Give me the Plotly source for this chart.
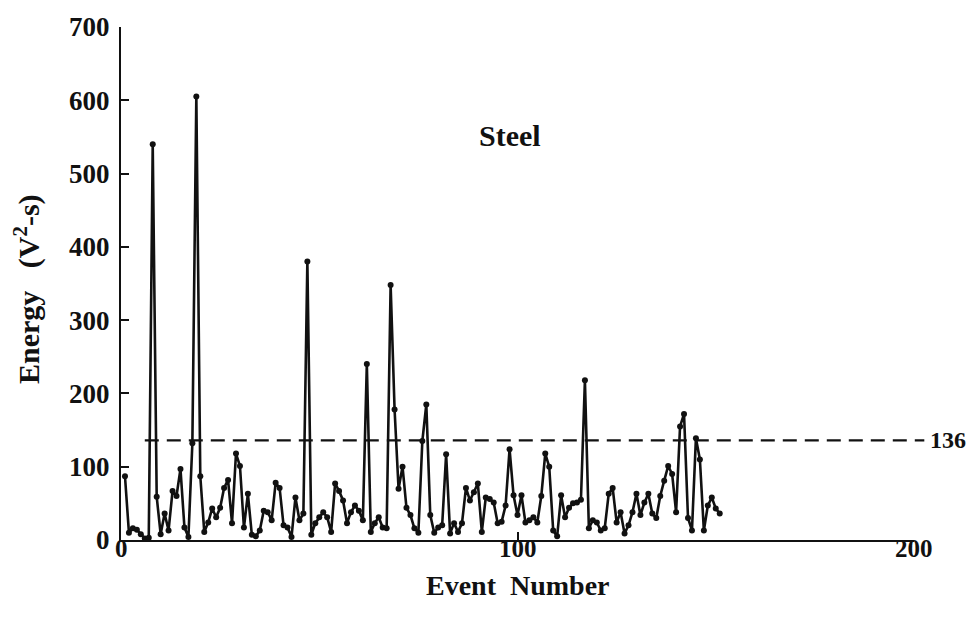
import plotly.graph_objects as go

# Acoustic emission energy per event for the steel specimen
energy = [
    87, 10, 16, 14, 8, 2, 3, 540, 59, 8,
    36, 13, 67, 60, 97, 17, 4, 132, 605, 87,
    11, 24, 43, 31, 44, 71, 82, 23, 118, 101,
    17, 63, 7, 5, 13, 40, 38, 27, 78, 71,
    20, 17, 4, 58, 27, 36, 380, 7, 23, 31,
    38, 31, 11, 77, 67, 54, 23, 38, 47, 40,
    27, 240, 11, 23, 31, 17, 16, 348, 178, 70,
    100, 44, 34, 16, 10, 135, 185, 34, 10, 17,
    20, 117, 9, 23, 11, 23, 71, 54, 65, 77,
    11, 58, 56, 51, 23, 25, 47, 124, 61, 34,
    61, 24, 27, 31, 24, 60, 118, 100, 13, 5,
    61, 31, 44, 50, 51, 55, 218, 16, 27, 24,
    13, 16, 63, 71, 24, 38, 9, 20, 38, 63,
    34, 51, 63, 36, 30, 60, 81, 101, 90, 38,
    155, 172, 30, 13, 139, 110, 13, 47, 58, 43,
    36,
]
event_number = list(range(1, len(energy) + 1))

threshold = 136
threshold_label = "136"
material = "Steel"

x_ticks = [0, 100, 200]
x_tick_labels = ["0", "100", "200"]
y_ticks = [0, 100, 200, 300, 400, 500, 600, 700]

serif = "Liberation Serif"
ink = "#111111"

fig = go.Figure()

fig.add_trace(go.Scatter(
    x=event_number,
    y=energy,
    mode="lines+markers",
    line=dict(color=ink, width=2.6),
    marker=dict(color=ink, size=6),
    showlegend=False,
    cliponaxis=False,
))

# Dashed threshold line, running slightly past the end of the x axis
fig.add_shape(
    type="line", xref="paper", yref="y",
    x0=0.03, x1=1.013, y0=threshold, y1=threshold,
    line=dict(color=ink, width=2.2, dash="14px,8px"),
)
fig.add_annotation(
    x=1.018, y=threshold, xref="paper", yref="y",
    text=threshold_label, showarrow=False,
    xanchor="left", yanchor="middle",
    font=dict(family=serif, size=24, color=ink, weight="bold"),
)

fig.add_annotation(
    x=98, y=552, xref="x", yref="y",
    text=material, showarrow=False,
    font=dict(family=serif, size=30, color=ink, weight="bold"),
)

# x tick labels sit tight under the axis, just above the axis title
for xv, lbl in zip(x_ticks, x_tick_labels):
    fig.add_annotation(
        x=xv, y=-0.017, xref="x", yref="paper",
        text=lbl, showarrow=False,
        xanchor="center", yanchor="middle", borderpad=0,
        font=dict(family=serif, size=25, color=ink, weight="bold"),
    )

# Axis titles
fig.add_annotation(
    x=-0.118, y=0.49, xref="paper", yref="paper",
    text="Energy   (V<sup>2</sup>-s)", showarrow=False,
    textangle=-90, xanchor="center", yanchor="middle",
    font=dict(family=serif, size=30, color=ink, weight="bold"),
)
fig.add_annotation(
    x=0.5, y=-0.088, xref="paper", yref="paper",
    text="Event  Number", showarrow=False,
    xanchor="center", yanchor="middle", borderpad=0,
    font=dict(family=serif, size=28, color=ink, weight="bold"),
)

fig.update_xaxes(
    range=[0, 200], tickvals=x_ticks, showticklabels=False,
    showline=True, linecolor=ink, linewidth=2,
    ticks="inside", ticklen=8, tickwidth=2, tickcolor=ink,
    showgrid=False, zeroline=False,
)
fig.update_yaxes(
    range=[0, 700], tickvals=y_ticks, ticktext=[str(v) for v in y_ticks],
    showline=True, linecolor=ink, linewidth=2,
    ticks="inside", ticklen=8, tickwidth=2, tickcolor=ink,
    showgrid=False, zeroline=False, ticklabelstandoff=4,
    tickfont=dict(family=serif, size=27, color=ink, weight="bold"),
)

fig.update_layout(
    width=972, height=620,
    margin=dict(l=121, r=58, t=20, b=80),
    paper_bgcolor="white", plot_bgcolor="white",
)

fig.write_html("out.html")
